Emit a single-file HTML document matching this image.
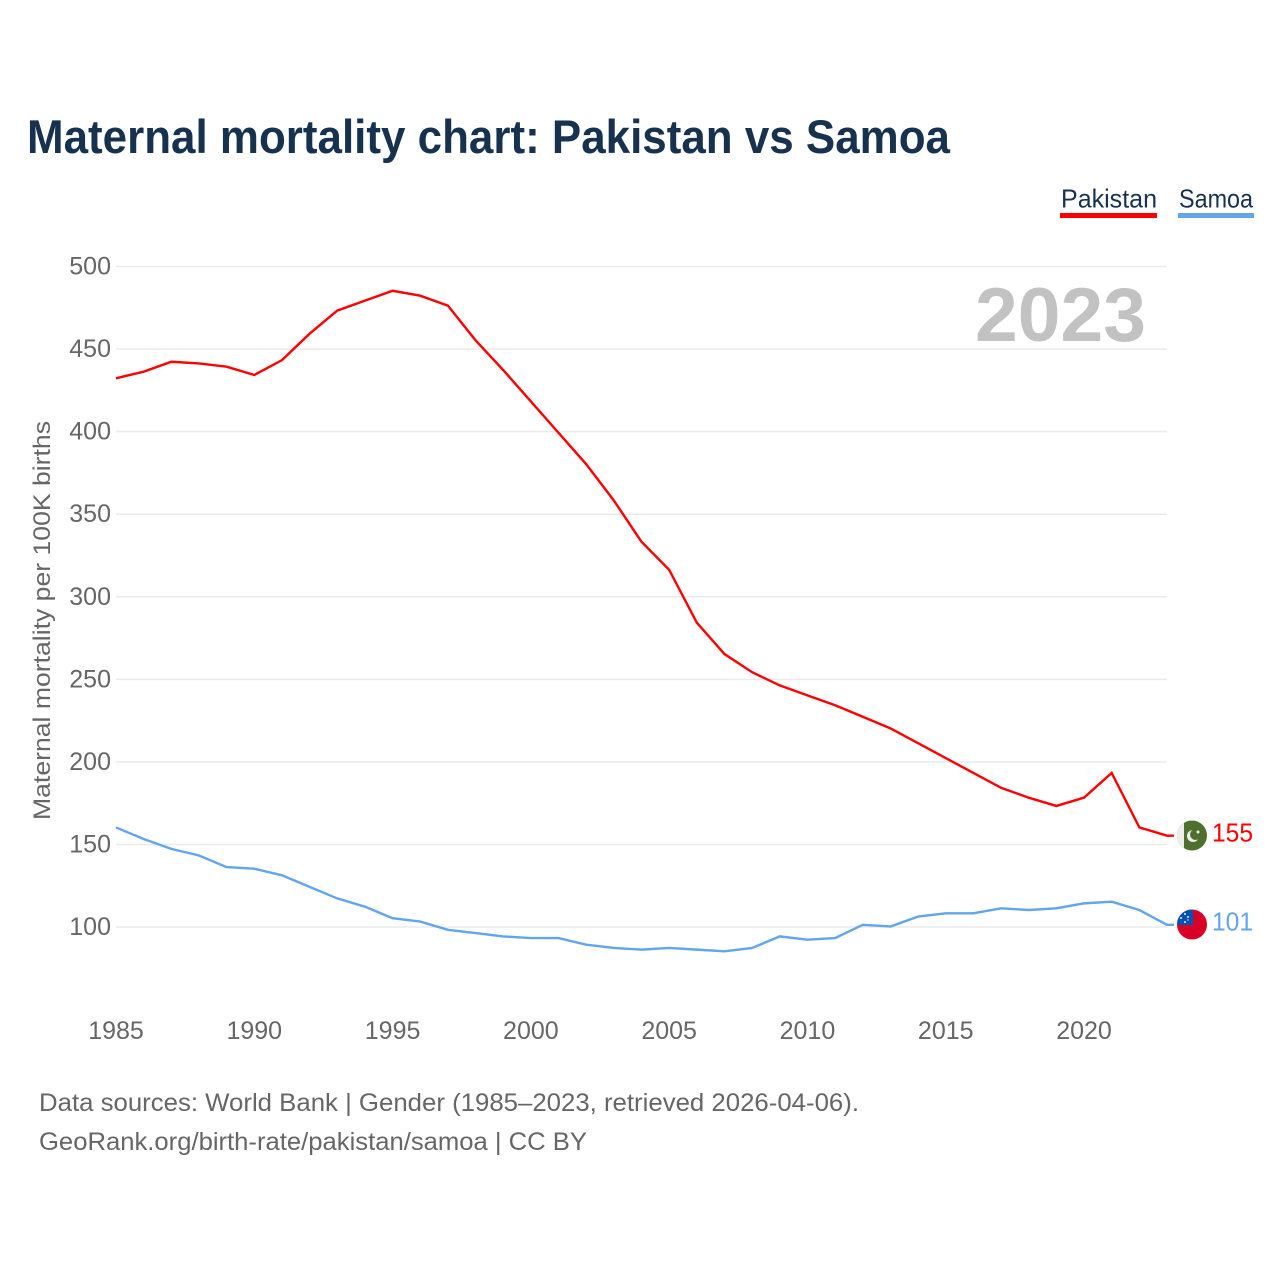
<!DOCTYPE html>
<html lang="en">
<head>
<meta charset="utf-8">
<title>Maternal mortality chart: Pakistan vs Samoa</title>
<style>
html,body{margin:0;padding:0;background:#fff;width:1280px;height:1280px;overflow:hidden}
svg{display:block}
text{font-family:"Liberation Sans",sans-serif}
.tick{font-size:25px;fill:#666}
</style>
</head>
<body>
<svg id="chart" xmlns="http://www.w3.org/2000/svg" width="1280" height="1280" viewBox="0 0 1280 1280">
  <rect x="0" y="0" width="1280" height="1280" fill="#fff"/>
  <text x="27" y="153" font-size="47" font-weight="700" fill="#17324f" textLength="923" lengthAdjust="spacingAndGlyphs">Maternal mortality chart: Pakistan vs Samoa</text>

  <g id="grid"></g>
  <g id="yticks"></g>
  <g id="xticks"></g>

  <text x="975" y="341" font-size="76" font-weight="700" fill="#c2c2c2" textLength="171" lengthAdjust="spacingAndGlyphs">2023</text>
  <text transform="translate(50,820) rotate(-90)" font-size="24" fill="#666" textLength="399" lengthAdjust="spacingAndGlyphs">Maternal mortality per 100K births</text>

  <g id="series"></g>

  <g>
    <text x="1061" y="207.5" font-size="26" fill="#17324f" textLength="96" lengthAdjust="spacingAndGlyphs">Pakistan</text>
    <rect x="1060" y="213" width="97" height="5" fill="#ff0000"/>
  </g>
  <g>
    <text x="1179" y="207.5" font-size="26" fill="#17324f" textLength="74" lengthAdjust="spacingAndGlyphs">Samoa</text>
    <rect x="1178" y="213" width="76" height="5" fill="#62a5ec"/>
  </g>

  <defs>
    <clipPath id="clip-pk"><circle cx="1192" cy="835.5" r="15"/></clipPath>
    <clipPath id="clip-ws"><circle cx="1192" cy="924.5" r="15"/></clipPath>
  </defs>
  <g clip-path="url(#clip-pk)">
    <rect x="1176" y="820" width="32" height="32" fill="#4f6f2f"/>
    <rect x="1176" y="820" width="8" height="32" fill="#eeeeee"/>
    <circle cx="1193" cy="836" r="6" fill="#eeeeee"/>
    <circle cx="1195.5" cy="834.5" r="5.4" fill="#4f6f2f"/>
    <circle cx="1198" cy="832" r="1.5" fill="#eeeeee"/>
  </g>
  <g clip-path="url(#clip-ws)">
    <rect x="1176" y="909" width="32" height="32" fill="#d80027"/>
    <rect x="1176" y="909" width="17" height="16" fill="#0052b4"/>
    <circle cx="1185" cy="914" r="1" fill="#eee"/>
    <circle cx="1181" cy="918" r="1" fill="#eee"/>
    <circle cx="1188" cy="917" r="1" fill="#eee"/>
    <circle cx="1185" cy="922" r="1" fill="#eee"/>
    <circle cx="1188" cy="920" r="0.7" fill="#eee"/>
  </g>
  <text id="label-pk" x="1212" y="841.5" font-size="26" fill="#ff0000" textLength="41" lengthAdjust="spacingAndGlyphs"></text>
  <text id="label-ws" x="1212" y="930.5" font-size="26" fill="#62a5ec" textLength="41" lengthAdjust="spacingAndGlyphs"></text>

  <text x="39" y="1111" font-size="25" fill="#666" textLength="820" lengthAdjust="spacingAndGlyphs">Data sources: World Bank | Gender (1985–2023, retrieved 2026-04-06).</text>
  <text x="39" y="1150" font-size="25" fill="#666" textLength="548" lengthAdjust="spacingAndGlyphs">GeoRank.org/birth-rate/pakistan/samoa | CC BY</text>
</svg>
<script>
const years = [1985,1986,1987,1988,1989,1990,1991,1992,1993,1994,1995,1996,1997,1998,1999,2000,2001,2002,2003,2004,2005,2006,2007,2008,2009,2010,2011,2012,2013,2014,2015,2016,2017,2018,2019,2020,2021,2022,2023];
const pakistan = [432,436,442,441,439,434,443,459,473,479,485,482,476,455,437,418,399,380,358,333,316,284,265,254,246,240,234,227,220,211,202,193,184,178,173,178,193,160,155];
const samoa = [160,153,147,143,136,135,131,124,117,112,105,103,98,96,94,93,93,89,87,86,87,86,85,87,94,92,93,101,100,106,108,108,111,110,111,114,115,110,101];
const yTickValues = [100,150,200,250,300,350,400,450,500];
const xTickValues = [1985,1990,1995,2000,2005,2010,2015,2020];

const NS = 'http://www.w3.org/2000/svg';
function xScale(year){ return 116 + (year - 1985) * (1167 - 116) / (2023 - 1985); }
function yScale(v){ return 927 - (v - 100) * (927 - 266.5) / (500 - 100); }

const gridG = document.getElementById('grid');
const yG = document.getElementById('yticks');
const xG = document.getElementById('xticks');
const seriesG = document.getElementById('series');

yTickValues.forEach(function(v){
  const line = document.createElementNS(NS, 'line');
  
  
  line.setAttribute('x1', 116);
  line.setAttribute('x2', 1167);
  line.setAttribute('y1', yScale(v));
  line.setAttribute('y2', yScale(v));
  line.setAttribute('stroke', '#ebebeb');
  line.setAttribute('stroke-width', '1.5');
  gridG.appendChild(line);

  const t = document.createElementNS(NS, 'text');
  
  
  t.setAttribute('class', 'tick');
  t.setAttribute('x', 111);
  t.setAttribute('y', yScale(v) + 8);
  t.setAttribute('text-anchor', 'end');
  t.textContent = v;
  yG.appendChild(t);
});

xTickValues.forEach(function(y){
  const t = document.createElementNS(NS, 'text');
  
  
  t.setAttribute('class', 'tick');
  t.setAttribute('x', xScale(y));
  t.setAttribute('y', 1039);
  t.setAttribute('text-anchor', 'middle');
  t.textContent = y;
  xG.appendChild(t);
});

function linePath(values){
  let d = values.map(function(v, i){
    return (i ? 'L' : 'M') + xScale(years[i]).toFixed(2) + ' ' + (yScale(v) - 0.5).toFixed(2);
  }).join(' ');
  d += ' L' + (xScale(years[years.length - 1]) + 7).toFixed(2) + ' ' + (yScale(values[values.length - 1]) - 0.5).toFixed(2);
  return d;
}

const pkLine = document.createElementNS(NS, 'path');


pkLine.setAttribute('d', linePath(pakistan));
pkLine.setAttribute('fill', 'none');
pkLine.setAttribute('stroke', '#ff0000');
pkLine.setAttribute('stroke-width', '2.4');
seriesG.appendChild(pkLine);

const wsLine = document.createElementNS(NS, 'path');


wsLine.setAttribute('d', linePath(samoa));
wsLine.setAttribute('fill', 'none');
wsLine.setAttribute('stroke', '#62a5ec');
wsLine.setAttribute('stroke-width', '2.4');
seriesG.appendChild(wsLine);

document.getElementById('label-pk').textContent = pakistan[pakistan.length - 1];
document.getElementById('label-ws').textContent = samoa[samoa.length - 1];
</script>
</body>
</html>
